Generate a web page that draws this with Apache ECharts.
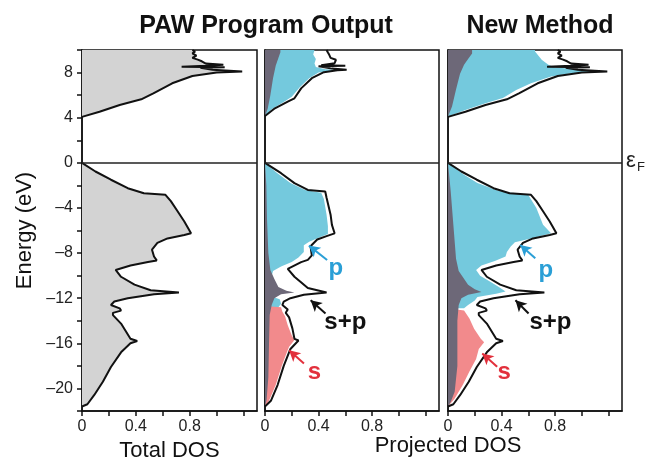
<!DOCTYPE html>
<html lang="en">
<head>
<meta charset="utf-8">
<title>PAW vs new method DOS</title>
<script src="https://cdn.jsdelivr.net/npm/echarts@6.0.0/dist/echarts.min.js"></script>
<style>
  html, body { margin: 0; padding: 0; background: #fff; }
  #chart { width: 646px; height: 467px; }
</style>
</head>
<body>
<div id="chart"></div>
<script>
// all curves are [DOS, energy (eV)] pairs
var yTickLabels = [8, 4, 0, -4, -8, -12, -16, -20];
var xTickLabels = [0, 0.4, 0.8];

// total DOS (left panel, black line of right panel)
var totalValence = [[0, 0], [0.10, -0.77], [0.215, -1.5], [0.34, -2.25], [0.46, -2.7], [0.62, -2.84], [0.66, -3.4],
  [0.71, -4.3], [0.76, -5.2], [0.81, -6.25], [0.76, -6.4], [0.635, -6.7], [0.56, -7.1], [0.52, -7.7],
  [0.535, -8.3], [0.555, -8.65], [0.49, -8.8], [0.36, -9.1], [0.25, -9.5], [0.29, -10.1], [0.39, -10.8],
  [0.51, -11.3], [0.72, -11.5], [0.535, -11.65], [0.34, -12.0], [0.24, -12.3], [0.215, -12.6], [0.28, -12.9],
  [0.29, -13.1], [0.23, -13.3], [0.23, -13.5], [0.29, -14.25], [0.36, -15.6], [0.41, -15.8], [0.36, -16.0],
  [0.29, -16.8], [0.215, -18.1], [0.155, -19.4], [0.09, -20.6], [0.04, -21.4], [0, -21.6]];
var totalConduction = [[0, 4.07], [0.13, 4.53], [0.28, 5.13], [0.44, 5.63], [0.53, 6.15], [0.67, 7.05],
  [0.82, 7.7], [1.0, 8.0], [1.19, 8.1], [0.97, 8.25], [0.88, 8.42], [1.06, 8.48], [0.74, 8.52], [0.92, 8.6],
  [1.05, 8.7], [0.92, 8.8], [0.89, 9.0], [0.86, 9.15], [0.82, 9.3], [0.85, 9.5], [0.82, 9.7], [0.84, 9.85], [0.82, 10]];

// PAW program output: s+p sum (black) and outer edge of each coloured layer
var pawSumValence = [[0, 0], [0.12, -0.92], [0.22, -1.8], [0.32, -2.4], [0.45, -2.55], [0.46, -3.1], [0.49, -4.6],
  [0.50, -5.5], [0.52, -6.25], [0.46, -6.5], [0.39, -6.8], [0.34, -7.4], [0.35, -8.2], [0.32, -8.6], [0.27, -8.8],
  [0.17, -9.4], [0.22, -10.1], [0.32, -11.1], [0.46, -11.5], [0.29, -11.7], [0.19, -12.0], [0.14, -12.3],
  [0.13, -12.6], [0.17, -13.0], [0.155, -13.3], [0.18, -13.7], [0.205, -14.7], [0.22, -15.6], [0.25, -15.75],
  [0.19, -16.5], [0.14, -18.0], [0.094, -19.7], [0.044, -21.1], [0, -21.6]];
var pawSumConduction = [[0, 4.15], [0.074, 4.83], [0.17, 5.42], [0.22, 5.72], [0.27, 6.6], [0.35, 7.5],
  [0.44, 8.03], [0.54, 8.2], [0.61, 8.25], [0.50, 8.35], [0.40, 8.55], [0.60, 8.6], [0.42, 8.65], [0.52, 8.83],
  [0.53, 9.13], [0.49, 9.3], [0.48, 9.57], [0.47, 9.78], [0.46, 10]];
var pawPValence = [[0, 0], [0.09, -0.9], [0.19, -1.8], [0.30, -2.4], [0.42, -2.65], [0.44, -3.2], [0.46, -4.6],
  [0.47, -5.6], [0.47, -6.3], [0.41, -6.6], [0.33, -7.0], [0.29, -7.3], [0.29, -7.9], [0.25, -8.4], [0.2, -8.8],
  [0.12, -9.2], [0.06, -9.6], [0.04, -10.5], [0.06, -11.9], [0.11, -12.1], [0.12, -12.5], [0.1, -12.8], [0, -12.8]];
var pawPConduction = [[0, 4.15], [0.05, 4.75], [0.14, 5.4], [0.2, 5.85], [0.26, 6.7], [0.33, 7.5], [0.40, 8.0],
  [0.52, 8.18], [0.58, 8.23], [0.45, 8.3], [0.38, 8.5], [0.37, 8.8], [0.38, 9.2], [0.36, 9.6], [0.37, 10]];
var pawSValence = [[0, -12.7], [0.12, -12.8], [0.13, -13.2], [0.15, -13.6], [0.17, -14.4], [0.2, -15.3],
  [0.22, -15.7], [0.18, -16.3], [0.16, -16.9], [0.125, -18.0], [0.08, -19.7], [0.03, -21.1], [0, -21.6]];
var pawOtherValence = [[0, 0], [0.01, -2], [0.015, -5], [0.025, -8], [0.04, -9.5], [0.07, -10.3], [0.1, -11.0],
  [0.16, -11.35], [0.22, -11.5], [0.12, -11.65], [0.07, -12.0], [0.05, -12.6], [0.035, -13.5], [0.03, -16],
  [0.025, -19], [0.012, -21], [0, -21.6]];
var pawOtherConduction = [[0, 4.15], [0.02, 4.8], [0.04, 6.0], [0.06, 7.5], [0.08, 8.6], [0.1, 9.3], [0.115, 9.8], [0.115, 10]];

// new method: black line is the total DOS, outer edge of each coloured layer
var newPValence = [[0, 0], [0.12, -1.06], [0.22, -1.8], [0.38, -2.5], [0.6, -2.85], [0.66, -4.0], [0.71, -5.5],
  [0.77, -6.25], [0.62, -6.7], [0.5, -7.05], [0.47, -7.4], [0.44, -7.9], [0.43, -8.3], [0.35, -8.7], [0.25, -9.1],
  [0.21, -9.5], [0.24, -10.0], [0.31, -10.5], [0.38, -11.0], [0.43, -11.4], [0.36, -11.6], [0.22, -11.9],
  [0.2, -12.2], [0.15, -12.6], [0.12, -12.9], [0, -12.9]];
var newPConduction = [[0, 4.1], [0.13, 4.68], [0.28, 5.27], [0.41, 5.75], [0.51, 6.46], [0.62, 7.05], [0.77, 7.64],
  [0.92, 7.95], [1.12, 8.12], [1.0, 8.28], [0.8, 8.45], [0.75, 8.7], [0.7, 9.13], [0.67, 9.57], [0.65, 9.87], [0.65, 10]];
var newSValence = [[0, -12.9], [0.12, -13.1], [0.16, -13.8], [0.195, -14.7], [0.245, -15.6], [0.27, -15.9],
  [0.23, -16.5], [0.21, -17.4], [0.16, -18.5], [0.11, -19.7], [0.05, -20.9], [0, -21.6]];
var newOtherValence = [[0, 0], [0.02, -2.5], [0.04, -5.5], [0.06, -8.5], [0.08, -9.6], [0.15, -10.8], [0.2, -11.2],
  [0.25, -11.45], [0.15, -11.7], [0.1, -12.0], [0.08, -12.6], [0.07, -14], [0.07, -18], [0.05, -20.3], [0.02, -21.2], [0, -21.6]];
var newOtherConduction = [[0, 4.1], [0.03, 5.0], [0.06, 6.5], [0.09, 7.9], [0.12, 8.7], [0.15, 9.2], [0.18, 9.7], [0.18, 10]];

// arrow annotations: tail -> head, label position
var pawNotes = [
  { text: 'p', color: '#2a9fd6', tail: [0.464, -8.62], head: [0.328, -7.34], at: [0.53, -9.4] },
  { text: 's+p', color: '#111', tail: [0.452, -13.36], head: [0.341, -12.18], at: [0.6, -14.1] },
  { text: 's', color: '#e2303c', tail: [0.291, -17.8], head: [0.18, -16.62], at: [0.37, -18.55] }
];
var newNotes = [
  { text: 'p', color: '#2a9fd6', tail: [0.652, -8.47], head: [0.54, -7.29], at: [0.73, -9.5] },
  { text: 's+p', color: '#111', tail: [0.602, -13.36], head: [0.504, -12.18], at: [0.765, -14.1] },
  { text: 's', color: '#e2303c', tail: [0.367, -18.07], head: [0.256, -16.9], at: [0.42, -18.55] }
];

var GRAY = '#d3d3d3', CYAN = '#74c9dd', PINK = '#f28a8c', DARK = '#6d6878', INK = '#111';
var font = 'Liberation Sans, Arial, sans-serif';

var chart = echarts.init(document.getElementById('chart'), null, { renderer: 'canvas' });

function fill(i, pts, color) {
  return {
    type: 'custom', xAxisIndex: i, yAxisIndex: i, data: pts, encode: { x: 0, y: 1 },
    clip: true, silent: true,
    renderItem: function (params, api) {
      if (params.dataIndex !== 0) return;
      var poly = [api.coord([0, pts[0][1]])];
      for (var k = 0; k < pts.length; k++) poly.push(api.coord(pts[k]));
      poly.push(api.coord([0, pts[pts.length - 1][1]]));
      return { type: 'polygon', shape: { points: poly }, style: { fill: color } };
    }
  };
}

function curve(i, pts, extra) {
  var s = {
    type: 'line', xAxisIndex: i, yAxisIndex: i, data: pts, showSymbol: false, symbol: 'none',
    clip: true, silent: true, animation: false,
    lineStyle: { color: INK, width: 2 }
  };
  for (var k in extra) s[k] = extra[k];
  return s;
}

function fermi() {
  return {
    silent: true, symbol: 'none', label: { show: false },
    lineStyle: { color: '#222', width: 1.5, type: 'solid' },
    data: [{ yAxis: 0 }]
  };
}

function notes(list) {
  return {
    markLine: {
      silent: true, symbol: ['none', 'arrow'], symbolSize: [9, 11], label: { show: false },
      data: list.map(function (n) {
        return [{ coord: n.tail, lineStyle: { color: n.color, width: 2, type: 'solid' } }, { coord: n.head }];
      })
    },
    markPoint: {
      silent: true,
      data: list.map(function (n) {
        return {
          coord: n.at, symbol: 'circle', symbolSize: 1, itemStyle: { color: 'rgba(0,0,0,0)' },
          label: { show: true, position: 'inside', formatter: n.text, color: n.color,
            fontSize: 24, fontWeight: 'bold', fontFamily: font }
        };
      })
    }
  };
}

var grids = [], xAxes = [], yAxes = [];
var lefts = [82, 265, 448], widths = [175, 174, 174];
for (var i = 0; i < 3; i++) {
  grids.push({ left: lefts[i], top: 50, width: widths[i], height: 361, show: true,
    borderColor: INK, borderWidth: 1.5, backgroundColor: 'transparent' });
  xAxes.push({
    type: 'value', gridIndex: i, min: 0, max: 1.3, interval: 0.2,
    name: i === 0 ? 'Total DOS' : '', nameLocation: 'middle', nameGap: 22,
    nameTextStyle: { fontSize: 22, color: INK, fontFamily: font },
    axisLine: { show: true, onZero: false, lineStyle: { color: INK, width: 1.5 } },
    axisTick: { show: true, length: 5, lineStyle: { color: INK, width: 1.5 } },
    splitLine: { show: false },
    axisLabel: { fontSize: 16, color: '#222', fontFamily: font, margin: 8, showMaxLabel: false,
      formatter: function (v) {
        return xTickLabels.some(function (t) { return Math.abs(t - v) < 1e-6; }) ? String(+v.toFixed(1)) : '';
      } }
  });
  yAxes.push({
    type: 'value', gridIndex: i, min: -22, max: 10, interval: 2,
    name: i === 0 ? 'Energy (eV)' : '', nameLocation: 'middle', nameGap: 46, nameRotate: 90,
    nameTextStyle: { fontSize: 22, color: INK, fontFamily: font },
    axisLine: { show: true, onZero: false, lineStyle: { color: INK, width: 1.5 } },
    axisTick: { show: i === 0, length: 5, lineStyle: { color: INK, width: 1.5 } },
    splitLine: { show: false },
    axisLabel: { show: i === 0, fontSize: 16, color: '#222', fontFamily: font, margin: 9,
      formatter: function (v) {
        if (yTickLabels.indexOf(v) < 0) return '';
        return v < 0 ? '\u2013' + (-v) : String(v);
      } }
  });
}

var series = [
  // panel 1: total DOS
  fill(0, totalValence, GRAY), fill(0, totalConduction, GRAY),
  curve(0, totalValence, { markLine: fermi() }), curve(0, totalConduction),
  // panel 2: PAW program output
  fill(1, pawPConduction, CYAN), fill(1, pawOtherConduction, DARK),
  fill(1, pawPValence, CYAN), fill(1, pawSValence, PINK), fill(1, pawOtherValence, DARK),
  curve(1, pawSumValence, { markLine: fermi() }), curve(1, pawSumConduction, notes(pawNotes)),
  // panel 3: new method
  fill(2, newPConduction, CYAN), fill(2, newOtherConduction, DARK),
  fill(2, newPValence, CYAN), fill(2, newSValence, PINK), fill(2, newOtherValence, DARK),
  curve(2, totalValence, { markLine: fermi() }), curve(2, totalConduction, notes(newNotes))
];

chart.setOption({
  animation: false,
  backgroundColor: '#fff',
  textStyle: { fontFamily: font },
  title: [
    { text: 'PAW Program Output', left: 261, top: 9, textAlign: 'center',
      textStyle: { fontSize: 25, fontWeight: 'bold', color: INK, fontFamily: font } },
    { text: 'New Method', left: 535, top: 9, textAlign: 'center',
      textStyle: { fontSize: 25, fontWeight: 'bold', color: INK, fontFamily: font } },
    { text: 'Projected DOS', left: 443, top: 430, textAlign: 'center',
      textStyle: { fontSize: 22, fontWeight: 'normal', color: INK, fontFamily: font } }
  ],
  graphic: [
    { type: 'text', left: 626, top: 150, style: { text: '\u03b5', fontSize: 22, fill: '#222', fontFamily: font } },
    { type: 'text', left: 637, top: 161, style: { text: 'F', fontSize: 13, fill: '#222', fontFamily: font } }
  ],
  grid: grids,
  xAxis: xAxes,
  yAxis: yAxes,
  series: series
});
</script>
</body>
</html>
